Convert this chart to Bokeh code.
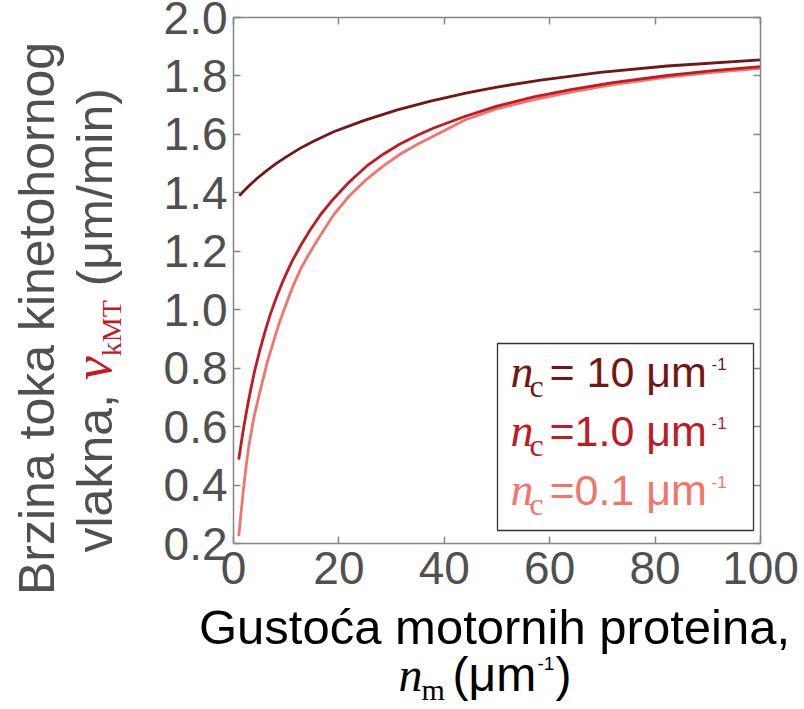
from math import pi
from bokeh.plotting import figure
from bokeh.models import Label, LinearAxis, FixedTicker, Range1d, BoxAnnotation
from bokeh.embed import file_html
from bokeh.resources import INLINE

# ---------------- data ----------------
nm_10 = [1.1, 2, 3, 4.5, 6.3, 8, 10, 12.7, 15, 19, 24.7, 31.1, 37.4, 44.3, 50, 58.3, 69.6, 82.3, 100]
v_10 = [1.390, 1.407, 1.425, 1.450, 1.476, 1.499, 1.523, 1.553, 1.575, 1.609, 1.647, 1.684,
        1.714, 1.742, 1.762, 1.786, 1.812, 1.834, 1.855]

nm_1 = [1, 1.5, 2, 2.6, 3.3, 4, 5, 6, 7, 8.2, 9.5, 11, 12.7, 14.5, 16.5, 19, 22, 25.3, 28.5,
        31.6, 35, 38, 44, 50, 57, 64, 72, 82, 91, 100]
v_1 = [0.487, 0.548, 0.604, 0.665, 0.730, 0.790, 0.862, 0.927, 0.985, 1.045, 1.103, 1.162,
       1.218, 1.272, 1.325, 1.380, 1.438, 1.492, 1.533, 1.567, 1.598, 1.622, 1.662, 1.697,
       1.728, 1.753, 1.777, 1.801, 1.818, 1.832]

nm_01 = [1, 1.4, 1.95, 2.4, 2.9, 3.85, 5.1, 6.4, 8.5, 10, 11.4, 12.9, 14.6, 16.5, 19, 22,
         25.3, 28.5, 31.6, 35, 37.9, 44, 50, 57, 64, 72, 82, 91, 100]
v_01 = [0.225, 0.300, 0.396, 0.465, 0.533, 0.630, 0.726, 0.820, 0.945, 1.020, 1.086, 1.145,
        1.199, 1.255, 1.325, 1.390, 1.447, 1.493, 1.532, 1.567, 1.594, 1.650, 1.688, 1.719,
        1.745, 1.770, 1.795, 1.812, 1.826]

x_ticks = [0, 20, 40, 60, 80, 100]
y_ticks = [0.2, 0.4, 0.6, 0.8, 1.0, 1.2, 1.4, 1.6, 1.8, 2.0]
y_tick_labels = ["0.2", "0.4", "0.6", "0.8", "1.0", "1.2", "1.4", "1.6", "1.8", "2.0"]
legend_values = ["= 10 \u03bcm", "=1.0 \u03bcm", "=0.1 \u03bcm"]
colors = ["#731616", "#C01A22", "#F2746C"]

# ---------------- geometry (page px of the plotting box) ----------------
W, H = 804, 709
FL, FR, FT, FB = 233, 760, 17, 543
X0, X1, Y0, Y1 = 0, 100, 0.2, 2.0
BASE = 0.38   # label baseline correction (fraction of font size)


def dx(xp):
    return X0 + (xp - FL) / (FR - FL) * (X1 - X0)


def dy(yp):
    return Y0 + (FB - yp) / (FB - FT) * (Y1 - Y0)


# the frame spans the whole canvas; the axes are pinned to the box edges
p = figure(width=W, height=H, x_range=Range1d(dx(0), dx(W)), y_range=Range1d(dy(H), dy(0)),
           output_backend="svg", toolbar_location=None, title=None,
           min_border_left=0, min_border_right=0, min_border_top=0, min_border_bottom=0)
p.xgrid.visible = False
p.ygrid.visible = False
p.outline_line_color = None
p.background_fill_color = "white"
p.border_fill_color = "white"

AX = "#858585"
TXT = "#505050"
SANS = "Liberation Sans"
SERIF = "Liberation Serif"


def style_axis(ax):
    ax.axis_line_color = AX
    ax.axis_line_width = 1.5
    ax.major_tick_line_color = AX
    ax.major_tick_line_width = 1.5
    ax.major_tick_in = 7
    ax.major_tick_out = 0
    ax.minor_tick_line_color = None


bottom = p.xaxis[0]
left = p.yaxis[0]
for ax in (bottom, left):
    style_axis(ax)
    ax.major_label_text_font = SANS
    ax.major_label_text_font_size = "46px"
    ax.major_label_text_color = TXT

bottom.ticker = FixedTicker(ticks=x_ticks)
bottom.bounds = (X0, X1)
bottom.fixed_location = Y0
bottom.major_label_standoff = 8
left.ticker = FixedTicker(ticks=y_ticks)
left.bounds = (Y0, Y1)
left.fixed_location = X0
left.major_label_overrides = {t: s for t, s in zip(y_ticks, y_tick_labels)}
left.major_label_standoff = 6

top = LinearAxis(ticker=FixedTicker(ticks=x_ticks), bounds=(X0, X1), fixed_location=Y1)
right = LinearAxis(ticker=FixedTicker(ticks=y_ticks), bounds=(Y0, Y1), fixed_location=X1)
for ax in (top, right):
    style_axis(ax)
    ax.major_label_text_font_size = "1px"
    ax.major_label_text_color = None
    ax.major_label_standoff = 0
p.add_layout(top, "above")
p.add_layout(right, "right")

# ---------------- curves ----------------
p.line(nm_01, v_01, line_color=colors[2], line_width=2.8)
p.line(nm_1, v_1, line_color=colors[1], line_width=2.8)
p.line(nm_10, v_10, line_color=colors[0], line_width=2.8)

# ---------------- text helpers ----------------
W_SANS = {' ': 278, '=': 584, '0': 556, '1': 556, '.': 278, '\u03bc': 576, 'm': 833, '-': 333,
          '(': 333, ')': 333, '/': 278, 'i': 222, 'n': 556, 'v': 500, 'l': 222, 'a': 556,
          'k': 500, ',': 278}
W_SERIF = {'c': 444, 'm': 778, 'k': 500, 'M': 889, 'T': 611, 'n': 500, 'v': 444}


def width(s, table, size):
    return sum(table[c] for c in s) * size / 1000.0


def put(text, xp, yp, font, size, color, style="normal", vertical=False, align="left"):
    """xp, yp: page position of the text's baseline origin."""
    if vertical:
        xp, angle = xp - BASE * size, pi / 2
    else:
        yp, angle = yp - BASE * size, 0.0
    p.add_layout(Label(x=dx(xp), y=dy(yp), text=text, text_font=font,
                       text_font_size=f"{size}px", text_color=color, text_font_style=style,
                       angle=angle, text_align=align, text_baseline="alphabetic"))


# ---------------- x-axis title ----------------
put("Gustoća motornih proteina,", 494, 645, SANS, 49, "black", align="center")
put("n", 398, 692, SERIF, 48, "black", "italic")
put("m", 421, 700, SERIF, 30, "black")
put("(\u03bcm", 452, 692, SANS, 48, "black")
put("-1", 537, 670, SANS, 19, "black")
put(")", 555, 692, SANS, 48, "black")

# ---------------- y-axis title (two rotated lines) ----------------
put("Brzina toka kinetohornog", 55, 318, SANS, 50, TXT, vertical=True, align="center")
LX = 113
yb = 552.0
put("vlakna,", LX, yb, SANS, 50, TXT, vertical=True)
yb -= width("vlakna, ", W_SANS, 50)
put("v", LX, yb, SERIF, 54, colors[1], "italic", vertical=True)
yb -= width("v", W_SERIF, 54)
put("kMT", LX + 9, yb, SERIF, 28, colors[1], vertical=True)
yb -= width("kMT", W_SERIF, 28) + width(" ", W_SANS, 50)
put("(\u03bcm/min)", LX, yb, SANS, 50, TXT, vertical=True)

# ---------------- legend ----------------
p.add_layout(BoxAnnotation(left=dx(497), right=dx(753), bottom=dy(530), top=dy(343),
                           fill_color="white", fill_alpha=1.0,
                           line_color="#333333", line_alpha=1.0, line_width=1.3,
                           level="annotation"))
for i, (val, col) in enumerate(zip(legend_values, colors)):
    base = 388 + 59 * i
    put("n", 510, base, SERIF, 46, col, "italic")
    put("c", 529, base + 10, SERIF, 32, col)
    put(val, 549, base, SANS, 43, col)
    put("-1", 711, base - 18, SANS, 17, col)

open("out.html", "w").write(file_html(p, INLINE))
